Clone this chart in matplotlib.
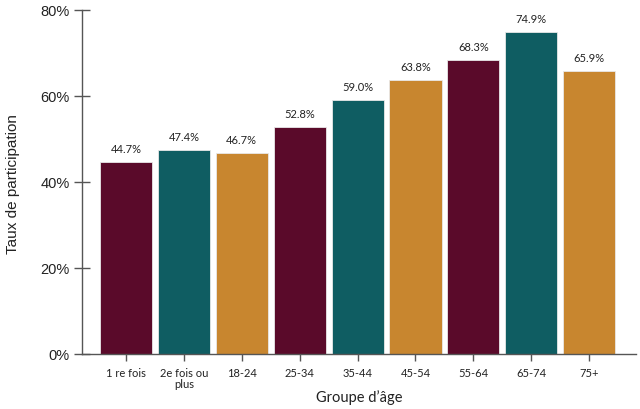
import matplotlib
matplotlib.use("Agg")
import matplotlib.pyplot as plt
import numpy as np

categories = ["1 re fois", "2e fois ou\nplus", "18-24", "25-34", "35-44", "45-54", "55-64", "65-74", "75+"]
values = [44.7, 47.4, 46.7, 52.8, 59.0, 63.8, 68.3, 74.9, 65.9]
palette = ["#5a0a2a", "#0f5d62", "#c8862f"]
y_ticks = [0, 20, 40, 60, 80]

plt.rcParams['font.family'] = ['Lato', 'DejaVu Sans']

fig = plt.figure(figsize=(6.4, 4.09), dpi=100)
ax = fig.add_axes([82/640, 1-354/409, (636-82)/640, (354-10)/409])

x = np.arange(len(categories))
colors = [palette[i % 3] for i in range(len(categories))]
bars = ax.bar(x, values, width=0.9, color=colors, edgecolor="#e8e8e8", linewidth=0.6, zorder=2)

for xi, v in zip(x, values):
    ax.annotate(f"{v:.1f}%", (xi, v), xytext=(0, 5), textcoords="offset points",
                ha="center", va="bottom", fontsize=8, color="#222222")

ax.set_ylim(0, 80)
ax.set_xlim((82-126)/57.9, (636-126)/57.9)
ax.set_yticks(y_ticks)
ax.set_yticklabels([f"{t}%" for t in y_ticks], fontsize=10.5, color="#222222",
                   family=['Liberation Sans', 'DejaVu Sans'])
ax.set_xticks(x)
ax.set_xticklabels(categories, fontsize=8, color="#222222", linespacing=1.0)

for s in ["top", "right"]:
    ax.spines[s].set_visible(False)
for s in ["left", "bottom"]:
    ax.spines[s].set_color("#555555")
    ax.spines[s].set_linewidth(1.0)

ax.tick_params(axis="y", direction="inout", length=12, width=1.0, color="#555555", pad=3)
ax.tick_params(axis="x", direction="out", length=5, width=1.0, color="#555555", pad=5)

ax.set_ylabel("Taux de participation", fontsize=11, color="#222222",
              family=['Liberation Sans', 'DejaVu Sans'])
ax.yaxis.set_label_coords(-(82-13)/554, 0.495)
ax.yaxis.label.set_va("center")
ax.set_xlabel("Groupe d\u2019âge", fontsize=10.5, color="#222222")
ax.xaxis.set_label_coords(0.5, -(398-354)/344)
ax.xaxis.label.set_va("center")

fig.savefig("out.png", dpi=100)
